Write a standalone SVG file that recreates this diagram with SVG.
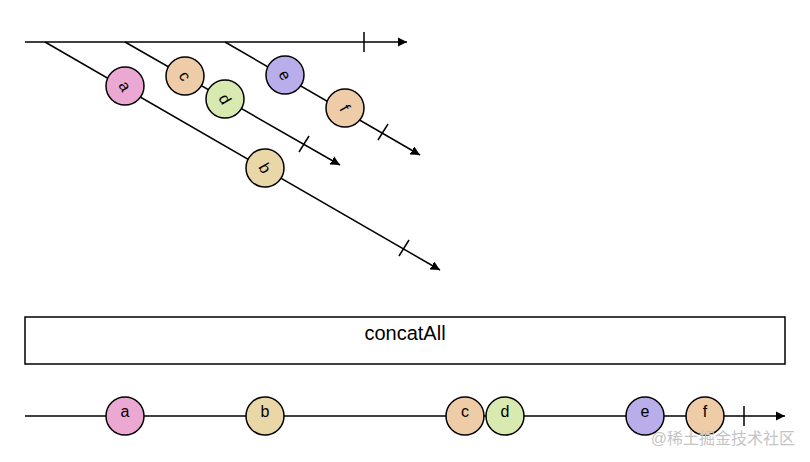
<svg xmlns="http://www.w3.org/2000/svg" width="810" height="462" viewBox="0 0 810 462">
<style>
.l{stroke:#000;stroke-width:1.5;fill:none}
.m{stroke:#000;stroke-width:1.5}
.t{font-family:"Liberation Sans",Arial,sans-serif;font-size:16px;text-anchor:middle;dominant-baseline:central}
</style>
<defs>
<marker id="ar" markerWidth="10" markerHeight="10" refX="9" refY="5" orient="auto" markerUnits="userSpaceOnUse"><path d="M0,0L10,5L0,10z" fill="#000" transform="scale(1.4) translate(-3.6,-1.4)"/></marker>
</defs>
<rect width="810" height="462" fill="#fff"/>
<g id="connectors">
<line class="l" x1="25" y1="42" x2="407" y2="42" marker-end="url(#ar)"/>
<line class="l" x1="364" y1="32" x2="364" y2="52"/>
<line class="l" x1="45" y1="42" x2="440" y2="270" marker-end="url(#ar)"/>
<line class="l" x1="399" y1="256" x2="409" y2="240"/>
<line class="l" x1="125" y1="42" x2="340" y2="165" marker-end="url(#ar)"/>
<line class="l" x1="299" y1="152" x2="309" y2="136"/>
<line class="l" x1="225" y1="42" x2="420" y2="155" marker-end="url(#ar)"/>
<line class="l" x1="378" y1="140" x2="388" y2="124"/>
<line class="l" x1="25" y1="416" x2="785" y2="416" marker-end="url(#ar)"/>
<line class="l" x1="744" y1="406" x2="744" y2="426"/>
</g>
<g id="ta"><circle class="m" cx="125" cy="86" r="19" fill="#eaa8d2"/><text class="t" x="125" y="86" transform="rotate(60 125 86)">a</text></g>
<g id="tb"><circle class="m" cx="265" cy="168" r="19" fill="#ead7a8"/><text class="t" x="265" y="168" transform="rotate(60 265 168)">b</text></g>
<g id="tc"><circle class="m" cx="185" cy="76" r="19" fill="#efcca8"/><text class="t" x="185" y="76" transform="rotate(60 185 76)">c</text></g>
<g id="td"><circle class="m" cx="225" cy="99" r="19" fill="#d8eab0"/><text class="t" x="225" y="99" transform="rotate(60 225 99)">d</text></g>
<g id="te"><circle class="m" cx="285" cy="75" r="19" fill="#b9aeea"/><text class="t" x="285" y="75" transform="rotate(60 285 75)">e</text></g>
<g id="tf"><circle class="m" cx="345" cy="108" r="19" fill="#efcca8"/><text class="t" x="345" y="108" transform="rotate(60 345 108)">f</text></g>
<g id="op"><rect x="25" y="317" width="760" height="47" fill="#fff" stroke="#000" stroke-width="1.5"/><text class="t" x="405" y="333" style="font-size:20px">concatAll</text></g>
<g id="ba"><circle class="m" cx="125" cy="416" r="19" fill="#eaa8d2"/><text class="t" x="125" y="411">a</text></g>
<g id="bb"><circle class="m" cx="265" cy="416" r="19" fill="#ead7a8"/><text class="t" x="265" y="411">b</text></g>
<g id="bc"><circle class="m" cx="465" cy="416" r="19" fill="#efcca8"/><text class="t" x="465" y="411">c</text></g>
<g id="bd"><circle class="m" cx="505" cy="416" r="19" fill="#d8eab0"/><text class="t" x="505" y="411">d</text></g>
<g id="be"><circle class="m" cx="645" cy="416" r="19" fill="#b9aeea"/><text class="t" x="645" y="411">e</text></g>
<g id="bf"><circle class="m" cx="705" cy="416" r="19" fill="#efcca8"/><text class="t" x="705" y="411">f</text></g>
<text x="795" y="444" text-anchor="end" fill="#c4c4c4" style="font-family:'Liberation Sans','Noto Sans CJK SC',sans-serif;font-size:16px">@稀土掘金技术社区</text>
</svg>
